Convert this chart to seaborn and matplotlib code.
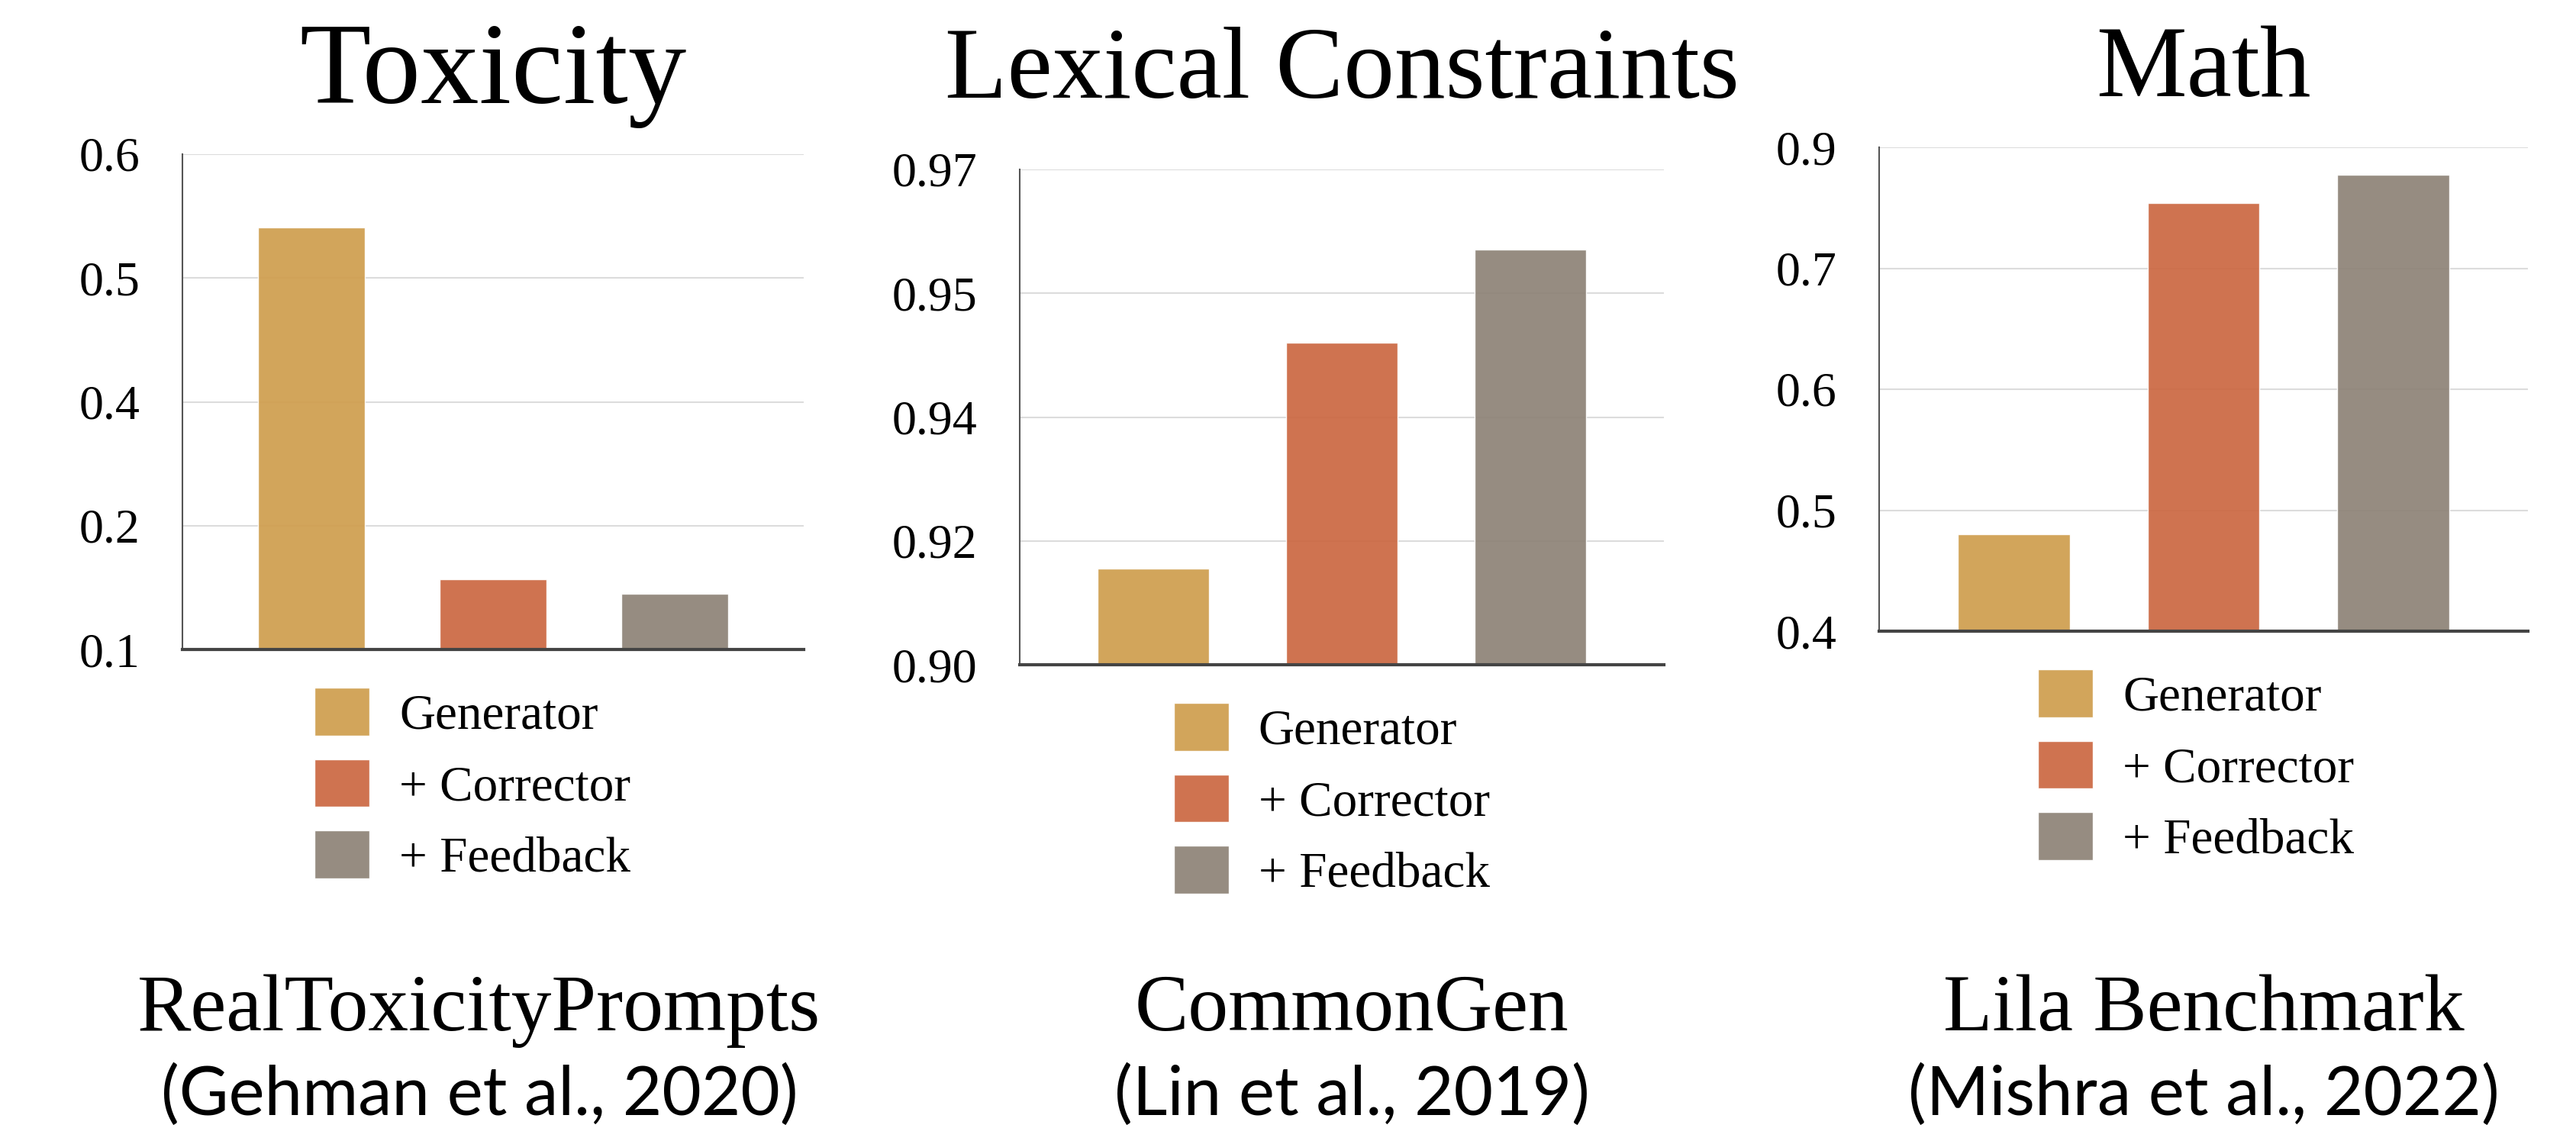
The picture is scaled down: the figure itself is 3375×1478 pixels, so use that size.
import numpy as np
import pandas as pd
import seaborn as sns
import matplotlib.pyplot as plt

methods = ["Generator", "+ Corrector", "+ Feedback"]
colors = ["#CF9D4D", "#CB6741", "#8D8276"]

titles = ["Toxicity", "Lexical Constraints", "Math"]
datasets = ["RealToxicityPrompts", "CommonGen", "Lila Benchmark"]
citations = ["(Gehman et al., 2020)", "(Lin et al., 2019)", "(Mishra et al., 2022)"]

tox_ticks = [0.1, 0.2, 0.4, 0.5, 0.6]
tox_labels = ["0.1", "0.2", "0.4", "0.5", "0.6"]
tox_scores = [0.541, 0.157, 0.145]

lex_ticks = [0.90, 0.92, 0.94, 0.95, 0.97]
lex_labels = ["0.90", "0.92", "0.94", "0.95", "0.97"]
lex_scores = [0.9155, 0.946, 0.957]

math_ticks = [0.4, 0.5, 0.6, 0.7, 0.9]
math_labels = ["0.4", "0.5", "0.6", "0.7", "0.9"]
math_scores = [0.48, 0.808, 0.854]


def tick_scale(ticks):
    # the axes put uneven tick values at even spacing -> piecewise linear scale
    t = np.asarray(ticks, float)
    k = np.arange(len(t), dtype=float)

    def fwd(v):
        v = np.asarray(v, float)
        out = np.interp(v, t, k)
        out = np.where(v < t[0], (v - t[0]) / (t[1] - t[0]), out)
        out = np.where(v > t[-1], k[-1] + (v - t[-1]) / (t[-1] - t[-2]), out)
        return out

    def inv(u):
        u = np.asarray(u, float)
        out = np.interp(u, k, t)
        out = np.where(u < 0, t[0] + u * (t[1] - t[0]), out)
        out = np.where(u > k[-1], t[-1] + (u - k[-1]) * (t[-1] - t[-2]), out)
        return out

    return fwd, inv


sns.set_style("white")
plt.rcParams["font.family"] = ["Liberation Serif", "DejaVu Serif"]
plt.rcParams["text.color"] = "black"
plt.rcParams["ytick.color"] = "black"
plt.rcParams["axes.titlecolor"] = "black"

fig = plt.figure(figsize=(33.75, 14.78), dpi=100)

W, H = 3375, 1478
# left, right, top, bottom in pixels
boxes = [(239, 1053, 202, 851), (1336, 2180, 222, 871), (2462, 3312, 193, 827)]
title_sizes = [110, 96, 96]
title_pads = [48, 68, 48]
legend_x = [0.2125, 0.239, 0.245]
label_x = [628, 1771, 2887]

panels = [
    (tox_ticks, tox_labels, tox_scores),
    (lex_ticks, lex_labels, lex_scores),
    (math_ticks, math_labels, math_scores),
]

for i, (ticks, labels, scores) in enumerate(panels):
    l, r, t, b = boxes[i]
    ax = fig.add_axes([l / W, 1 - b / H, (r - l) / W, (b - t) / H])
    df = pd.DataFrame({"method": methods, "score": scores})
    sns.barplot(data=df, x="method", y="score", hue="method", palette=colors,
                saturation=1, width=0.59, alpha=0.92, ax=ax, legend=True, zorder=2)
    fwd, inv = tick_scale(ticks)
    ax.set_yscale("function", functions=(fwd, inv))
    ax.set_ylim(ticks[0], ticks[-1])
    ax.set_yticks(ticks)
    ax.set_yticklabels(labels)
    ax.set_xlim(-0.71, 2.71)
    ax.set_xticks([])
    ax.set_xlabel("")
    ax.set_ylabel("")
    ax.grid(axis="y", color="#dcdcdc", linewidth=1.5, zorder=0)
    ax.set_axisbelow(True)
    ax.tick_params(axis="y", length=0, pad=40, labelsize=46)
    for s in ["top", "right"]:
        ax.spines[s].set_visible(False)
    ax.spines["left"].set_color("#555555")
    ax.spines["left"].set_linewidth(1.5)
    ax.spines["bottom"].set_color("#444444")
    ax.spines["bottom"].set_linewidth(3)
    ax.set_title(titles[i], fontsize=title_sizes[i], pad=title_pads[i])
    sns.move_legend(ax, "upper left", bbox_to_anchor=(legend_x[i], -50 / (b - t)),
                    frameon=False, title=None, fontsize=47, handlelength=1.1,
                    handleheight=1.1, labelspacing=0.4, handletextpad=0.6,
                    borderpad=0, borderaxespad=0)

    fig.text(label_x[i] / W, 1 - 1350 / H, datasets[i], ha="center", va="baseline",
             fontsize=76)
    fig.text(label_x[i] / W, 1 - 1461 / H, citations[i], ha="center", va="baseline",
             fontsize=64, family=["Lato", "DejaVu Sans"])

fig.savefig("out.png", dpi=100)
